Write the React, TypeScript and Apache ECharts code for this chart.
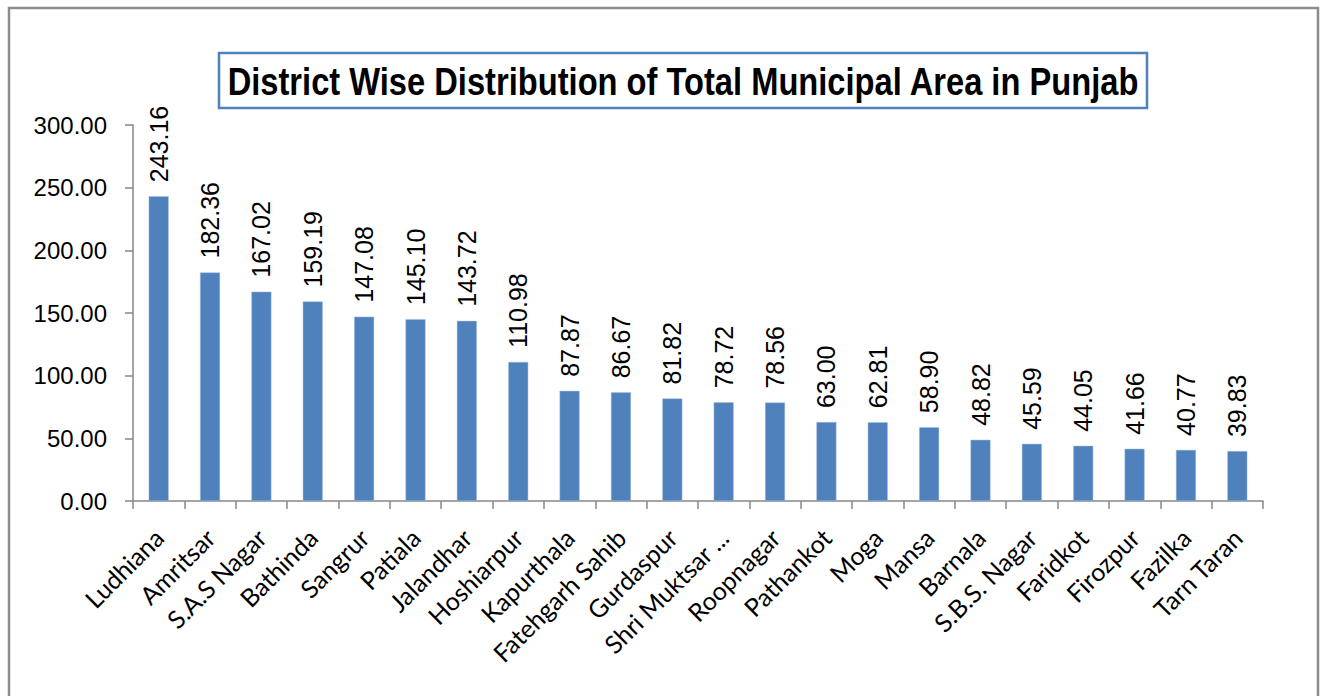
import React, { useEffect, useRef } from "react";
import * as echarts from "echarts";

const TITLE = "District Wise Distribution of Total Municipal Area in Punjab";

const districts = [
  "Ludhiana", "Amritsar", "S.A.S Nagar", "Bathinda", "Sangrur", "Patiala",
  "Jalandhar", "Hoshiarpur", "Kapurthala", "Fatehgarh Sahib", "Gurdaspur",
  "Shri Muktsar ...", "Roopnagar", "Pathankot", "Moga", "Mansa", "Barnala",
  "S.B.S. Nagar", "Faridkot", "Firozpur", "Fazilka", "Tarn Taran",
];

const areas = [
  243.16, 182.36, 167.02, 159.19, 147.08, 145.10, 143.72, 110.98, 87.87,
  86.67, 81.82, 78.72, 78.56, 63.00, 62.81, 58.90, 48.82, 45.59, 44.05,
  41.66, 40.77, 39.83,
];

const yMin = 0;
const yMax = 300;
const yStep = 50;

export default function App() {
  const ref = useRef<HTMLDivElement>(null);

  useEffect(() => {
    if (!ref.current) return;
    const chart = echarts.init(ref.current, null, { renderer: "svg" });
    const axisGray = "#868686";
    chart.setOption({
      animation: false,
      backgroundColor: "#ffffff",
      graphic: [
        {
          type: "rect",
          shape: { x: 9, y: 8, width: 1309, height: 700 },
          style: { fill: "none", stroke: "#8c8c8c", lineWidth: 2.5 },
          silent: true,
        },
        {
          type: "rect",
          shape: { x: 219, y: 53, width: 928, height: 55 },
          style: { fill: "#ffffff", stroke: "#4f81bd", lineWidth: 2.5 },
          silent: true,
        },
        {
          type: "text",
          x: 683,
          y: 82,
          scaleX: 0.86,
          scaleY: 1,
          style: {
            text: TITLE,
            fill: "#000000",
            font: "bold 38px 'Liberation Sans', Arial, sans-serif",
            align: "center",
            verticalAlign: "middle",
          },
          silent: true,
        },
      ],
      grid: { left: 133, right: 62, top: 125, bottom: 195, containLabel: false },
      xAxis: {
        type: "category",
        data: districts,
        boundaryGap: true,
        axisLine: { show: true, lineStyle: { color: axisGray, width: 1.5 } },
        axisTick: { show: true, alignWithLabel: false, length: 8, lineStyle: { color: axisGray, width: 1.5 } },
        axisLabel: {
          rotate: 45,
          interval: 0,
          margin: 32,
          color: "#000000",
          fontSize: 25,
          fontFamily: "Lato, 'Open Sans', sans-serif",
        },
        splitLine: { show: false },
      },
      yAxis: {
        type: "value",
        min: yMin,
        max: yMax,
        interval: yStep,
        axisLine: { show: true, lineStyle: { color: axisGray, width: 1.5 } },
        axisTick: { show: true, inside: false, length: 8, lineStyle: { color: axisGray, width: 1.5 } },
        axisLabel: {
          margin: 26,
          color: "#000000",
          fontSize: 24,
          fontFamily: "'Liberation Sans', Arial, sans-serif",
          formatter: (v: number) => v.toFixed(2),
        },
        splitLine: { show: false },
      },
      series: [
        {
          type: "bar",
          data: areas,
          barWidth: 20,
          itemStyle: { color: "#4f81bd", borderColor: "#a7bfdf", borderWidth: 0.5 },
          label: {
            show: true,
            position: "top",
            rotate: 90,
            align: "left",
            verticalAlign: "middle",
            distance: 14,
            color: "#000000",
            fontSize: 25,
            fontFamily: "'Liberation Sans', Arial, sans-serif",
            formatter: (p: any) => Number(p.value).toFixed(2),
          },
        },
      ],
    });
    return () => chart.dispose();
  }, []);

  return (
    <div
      ref={ref}
      style={{ position: "absolute", left: 0, top: 0, width: 1325, height: 696 }}
    />
  );
}
